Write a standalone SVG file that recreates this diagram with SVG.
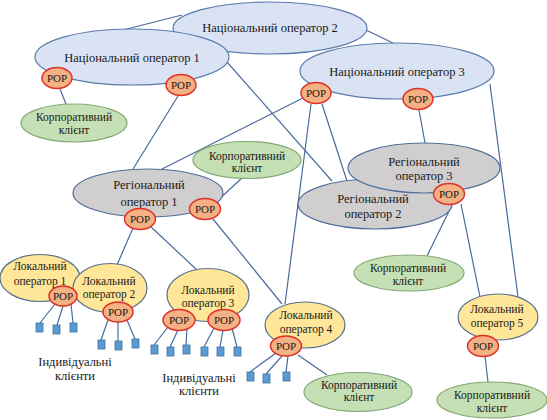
<svg xmlns="http://www.w3.org/2000/svg" width="547" height="420" viewBox="0 0 547 420">
<style>
.nat{fill:#dae3f3;stroke:#5a7bab;stroke-width:1.2}
.reg{fill:#d0cece;stroke:#4f6f9a;stroke-width:1.2}
.loc{fill:#ffe699;stroke:#55708f;stroke-width:1.2}
.corp{fill:#c5e0b4;stroke:#84a774;stroke-width:1.2}
.pop{fill:#f4b183;stroke:#e0302a;stroke-width:1.5}
.sq{fill:#5b9bd5;stroke:#41719c;stroke-width:0.8}
.ln{stroke:#4a6a9c;stroke-width:1.2;fill:none}
text{font-family:"Liberation Serif","Times New Roman",Times,serif;fill:#1a1a1a;text-anchor:middle}
.t12{font-size:12.5px}
.t115{font-size:11.5px}
.tp{font-size:11px}
</style>
<rect width="547" height="420" fill="#ffffff"/>
<g id="connectors" class="ln">
<line x1="123" y1="30" x2="182" y2="15"/>
<line x1="366" y1="30" x2="393" y2="43"/>
<line x1="60" y1="89" x2="66" y2="104"/>
<line x1="178" y1="96" x2="133" y2="169"/>
<line x1="227" y1="62" x2="332" y2="181"/>
<line x1="303" y1="98" x2="162" y2="169"/>
<line x1="311" y1="104" x2="285" y2="304"/>
<line x1="322" y1="104" x2="347" y2="181"/>
<line x1="419" y1="110" x2="425" y2="143"/>
<line x1="490" y1="84" x2="518" y2="297"/>
<line x1="242" y1="178" x2="217" y2="201"/>
<line x1="133" y1="228" x2="117" y2="265"/>
<line x1="150" y1="226" x2="197" y2="270"/>
<line x1="213" y1="219" x2="282" y2="304"/>
<line x1="452" y1="205" x2="427" y2="256"/>
<line x1="461" y1="204" x2="480" y2="297"/>
<line x1="485" y1="356" x2="488" y2="382"/>
<line x1="298" y1="355" x2="327" y2="375"/>
<line x1="55" y1="304" x2="40" y2="323"/>
<line x1="63" y1="306" x2="57" y2="325"/>
<line x1="71" y1="304" x2="73" y2="323"/>
<line x1="108" y1="320" x2="101" y2="340"/>
<line x1="118" y1="322" x2="118" y2="341"/>
<line x1="127" y1="320" x2="135" y2="339"/>
<line x1="168" y1="327" x2="154" y2="345"/>
<line x1="178" y1="330" x2="170" y2="347"/>
<line x1="187" y1="328" x2="186" y2="345"/>
<line x1="214" y1="328" x2="204" y2="347"/>
<line x1="223" y1="330" x2="220" y2="347"/>
<line x1="232" y1="328" x2="237" y2="347"/>
<line x1="276" y1="353" x2="250" y2="372"/>
<line x1="282" y1="356" x2="266" y2="374"/>
<line x1="288" y1="356" x2="286" y2="372"/>
</g>
<g id="nat2"><ellipse class="nat" cx="270" cy="28" rx="97" ry="26"/><text class="t12" x="270" y="32">Національний оператор 2</text></g>
<g id="nat1"><ellipse class="nat" cx="132" cy="57" rx="97" ry="28"/><text class="t12" x="132" y="62">Національний оператор 1</text></g>
<g id="nat3"><ellipse class="nat" cx="397" cy="71" rx="97" ry="28"/><text class="t12" x="397" y="76">Національний оператор 3</text></g>
<g id="pop-n1a"><ellipse class="pop" cx="57" cy="78" rx="15" ry="10.5"/><text class="tp" x="57" y="82">POP</text></g>
<g id="pop-n1b"><ellipse class="pop" cx="181" cy="85" rx="15" ry="10.5"/><text class="tp" x="181" y="89">POP</text></g>
<g id="pop-n3a"><ellipse class="pop" cx="316" cy="93" rx="15" ry="10.5"/><text class="tp" x="316" y="97">POP</text></g>
<g id="pop-n3b"><ellipse class="pop" cx="418" cy="99" rx="15" ry="10.5"/><text class="tp" x="418" y="103">POP</text></g>
<g id="corp1"><ellipse class="corp" cx="74" cy="123" rx="53" ry="19"/><text class="t115" x="74" y="121">Корпоративний</text><text class="t115" x="74" y="134">клієнт</text></g>
<g id="corp2"><ellipse class="corp" cx="247" cy="160" rx="54" ry="18.5"/><text class="t115" x="247" y="160">Корпоративний</text><text class="t115" x="247" y="172">клієнт</text></g>
<g id="reg1"><ellipse class="reg" cx="148" cy="193" rx="75" ry="24"/><text class="t12" x="149" y="189">Регіональний</text><text class="t12" x="149" y="206">оператор 1</text></g>
<g id="reg2"><ellipse class="reg" cx="375" cy="204" rx="77" ry="25"/><text class="t12" x="373" y="203">Регіональний</text><text class="t12" x="373" y="218">оператор 2</text></g>
<g id="reg3"><ellipse class="reg" cx="424" cy="168" rx="76" ry="25"/><text class="t12" x="424" y="166">Регіональний</text><text class="t12" x="424" y="180">оператор 3</text></g>
<g id="pop-r1a"><ellipse class="pop" cx="140" cy="219" rx="15.5" ry="10.5"/><text class="tp" x="140" y="223">POP</text></g>
<g id="pop-r1b"><ellipse class="pop" cx="205" cy="209" rx="15.5" ry="10.5"/><text class="tp" x="205" y="213">POP</text></g>
<g id="pop-r3"><ellipse class="pop" cx="449" cy="194" rx="15.5" ry="10.5"/><text class="tp" x="449" y="198">POP</text></g>
<g id="corp3"><ellipse class="corp" cx="409" cy="273" rx="55" ry="18"/><text class="t115" x="408" y="272">Корпоративний</text><text class="t115" x="408" y="285">клієнт</text></g>
<g id="loc1"><ellipse class="loc" cx="40" cy="278" rx="40" ry="23.5"/><text class="t115" x="40" y="270">Локальний</text><text class="t115" x="40" y="285">оператор 1</text></g>
<g id="loc2"><ellipse class="loc" cx="110" cy="288" rx="37" ry="24.5"/><text class="t115" x="109" y="285">Локальний</text><text class="t115" x="109" y="298">оператор 2</text></g>
<g id="pop-l1"><ellipse class="pop" cx="63" cy="296" rx="14" ry="10"/><text class="tp" x="63" y="300">POP</text></g>
<g id="pop-l2"><ellipse class="pop" cx="118" cy="312" rx="15" ry="10"/><text class="tp" x="118" y="316">POP</text></g>
<g id="loc3"><ellipse class="loc" cx="208" cy="295" rx="41" ry="26.5"/><text class="t115" x="208" y="294">Локальний</text><text class="t115" x="208" y="307">оператор 3</text></g>
<g id="pop-l3a"><ellipse class="pop" cx="179" cy="320" rx="16" ry="10.5"/><text class="tp" x="179" y="324">POP</text></g>
<g id="pop-l3b"><ellipse class="pop" cx="224" cy="320" rx="16" ry="10.5"/><text class="tp" x="224" y="324">POP</text></g>
<g id="loc4"><ellipse class="loc" cx="305" cy="325" rx="40" ry="23"/><text class="t115" x="306" y="319">Локальний</text><text class="t115" x="306" y="333">оператор 4</text></g>
<g id="pop-l4"><ellipse class="pop" cx="286" cy="346" rx="15.5" ry="10"/><text class="tp" x="286" y="350">POP</text></g>
<g id="corp4"><ellipse class="corp" cx="358" cy="392" rx="54" ry="19.5"/><text class="t115" x="359" y="389">Корпоративний</text><text class="t115" x="359" y="401">клієнт</text></g>
<g id="loc5"><ellipse class="loc" cx="498" cy="317" rx="40" ry="23"/><text class="t115" x="497" y="313">Локальний</text><text class="t115" x="497" y="327">оператор 5</text></g>
<g id="pop-l5"><ellipse class="pop" cx="483" cy="346" rx="15.5" ry="10.5"/><text class="tp" x="483" y="350">POP</text></g>
<g id="corp5"><ellipse class="corp" cx="492" cy="400" rx="55" ry="18"/><text class="t115" x="492" y="399">Корпоративний</text><text class="t115" x="492" y="412">клієнт</text></g>
<g id="clients">
<rect class="sq" x="36" y="323" width="7" height="9"/>
<rect class="sq" x="53" y="325" width="7" height="9"/>
<rect class="sq" x="70" y="323" width="7" height="9"/>
<rect class="sq" x="98" y="340" width="7" height="9"/>
<rect class="sq" x="115" y="341" width="7" height="9"/>
<rect class="sq" x="132" y="339" width="7" height="9"/>
<rect class="sq" x="151" y="345" width="7" height="9"/>
<rect class="sq" x="167" y="347" width="7" height="9"/>
<rect class="sq" x="183" y="345" width="7" height="9"/>
<rect class="sq" x="201" y="347" width="7" height="9"/>
<rect class="sq" x="217" y="347" width="7" height="9"/>
<rect class="sq" x="234" y="347" width="7" height="9"/>
<rect class="sq" x="247" y="372" width="7" height="9"/>
<rect class="sq" x="263" y="374" width="7" height="9"/>
<rect class="sq" x="283" y="372" width="7" height="9"/>
</g>
<g id="labels">
<text class="t12" x="75" y="366">Індивідуальні</text>
<text class="t12" x="75" y="380">клієнти</text>
<text class="t12" x="199" y="382">Індивідуальні</text>
<text class="t12" x="199" y="395">клієнти</text>
</g>
</svg>
